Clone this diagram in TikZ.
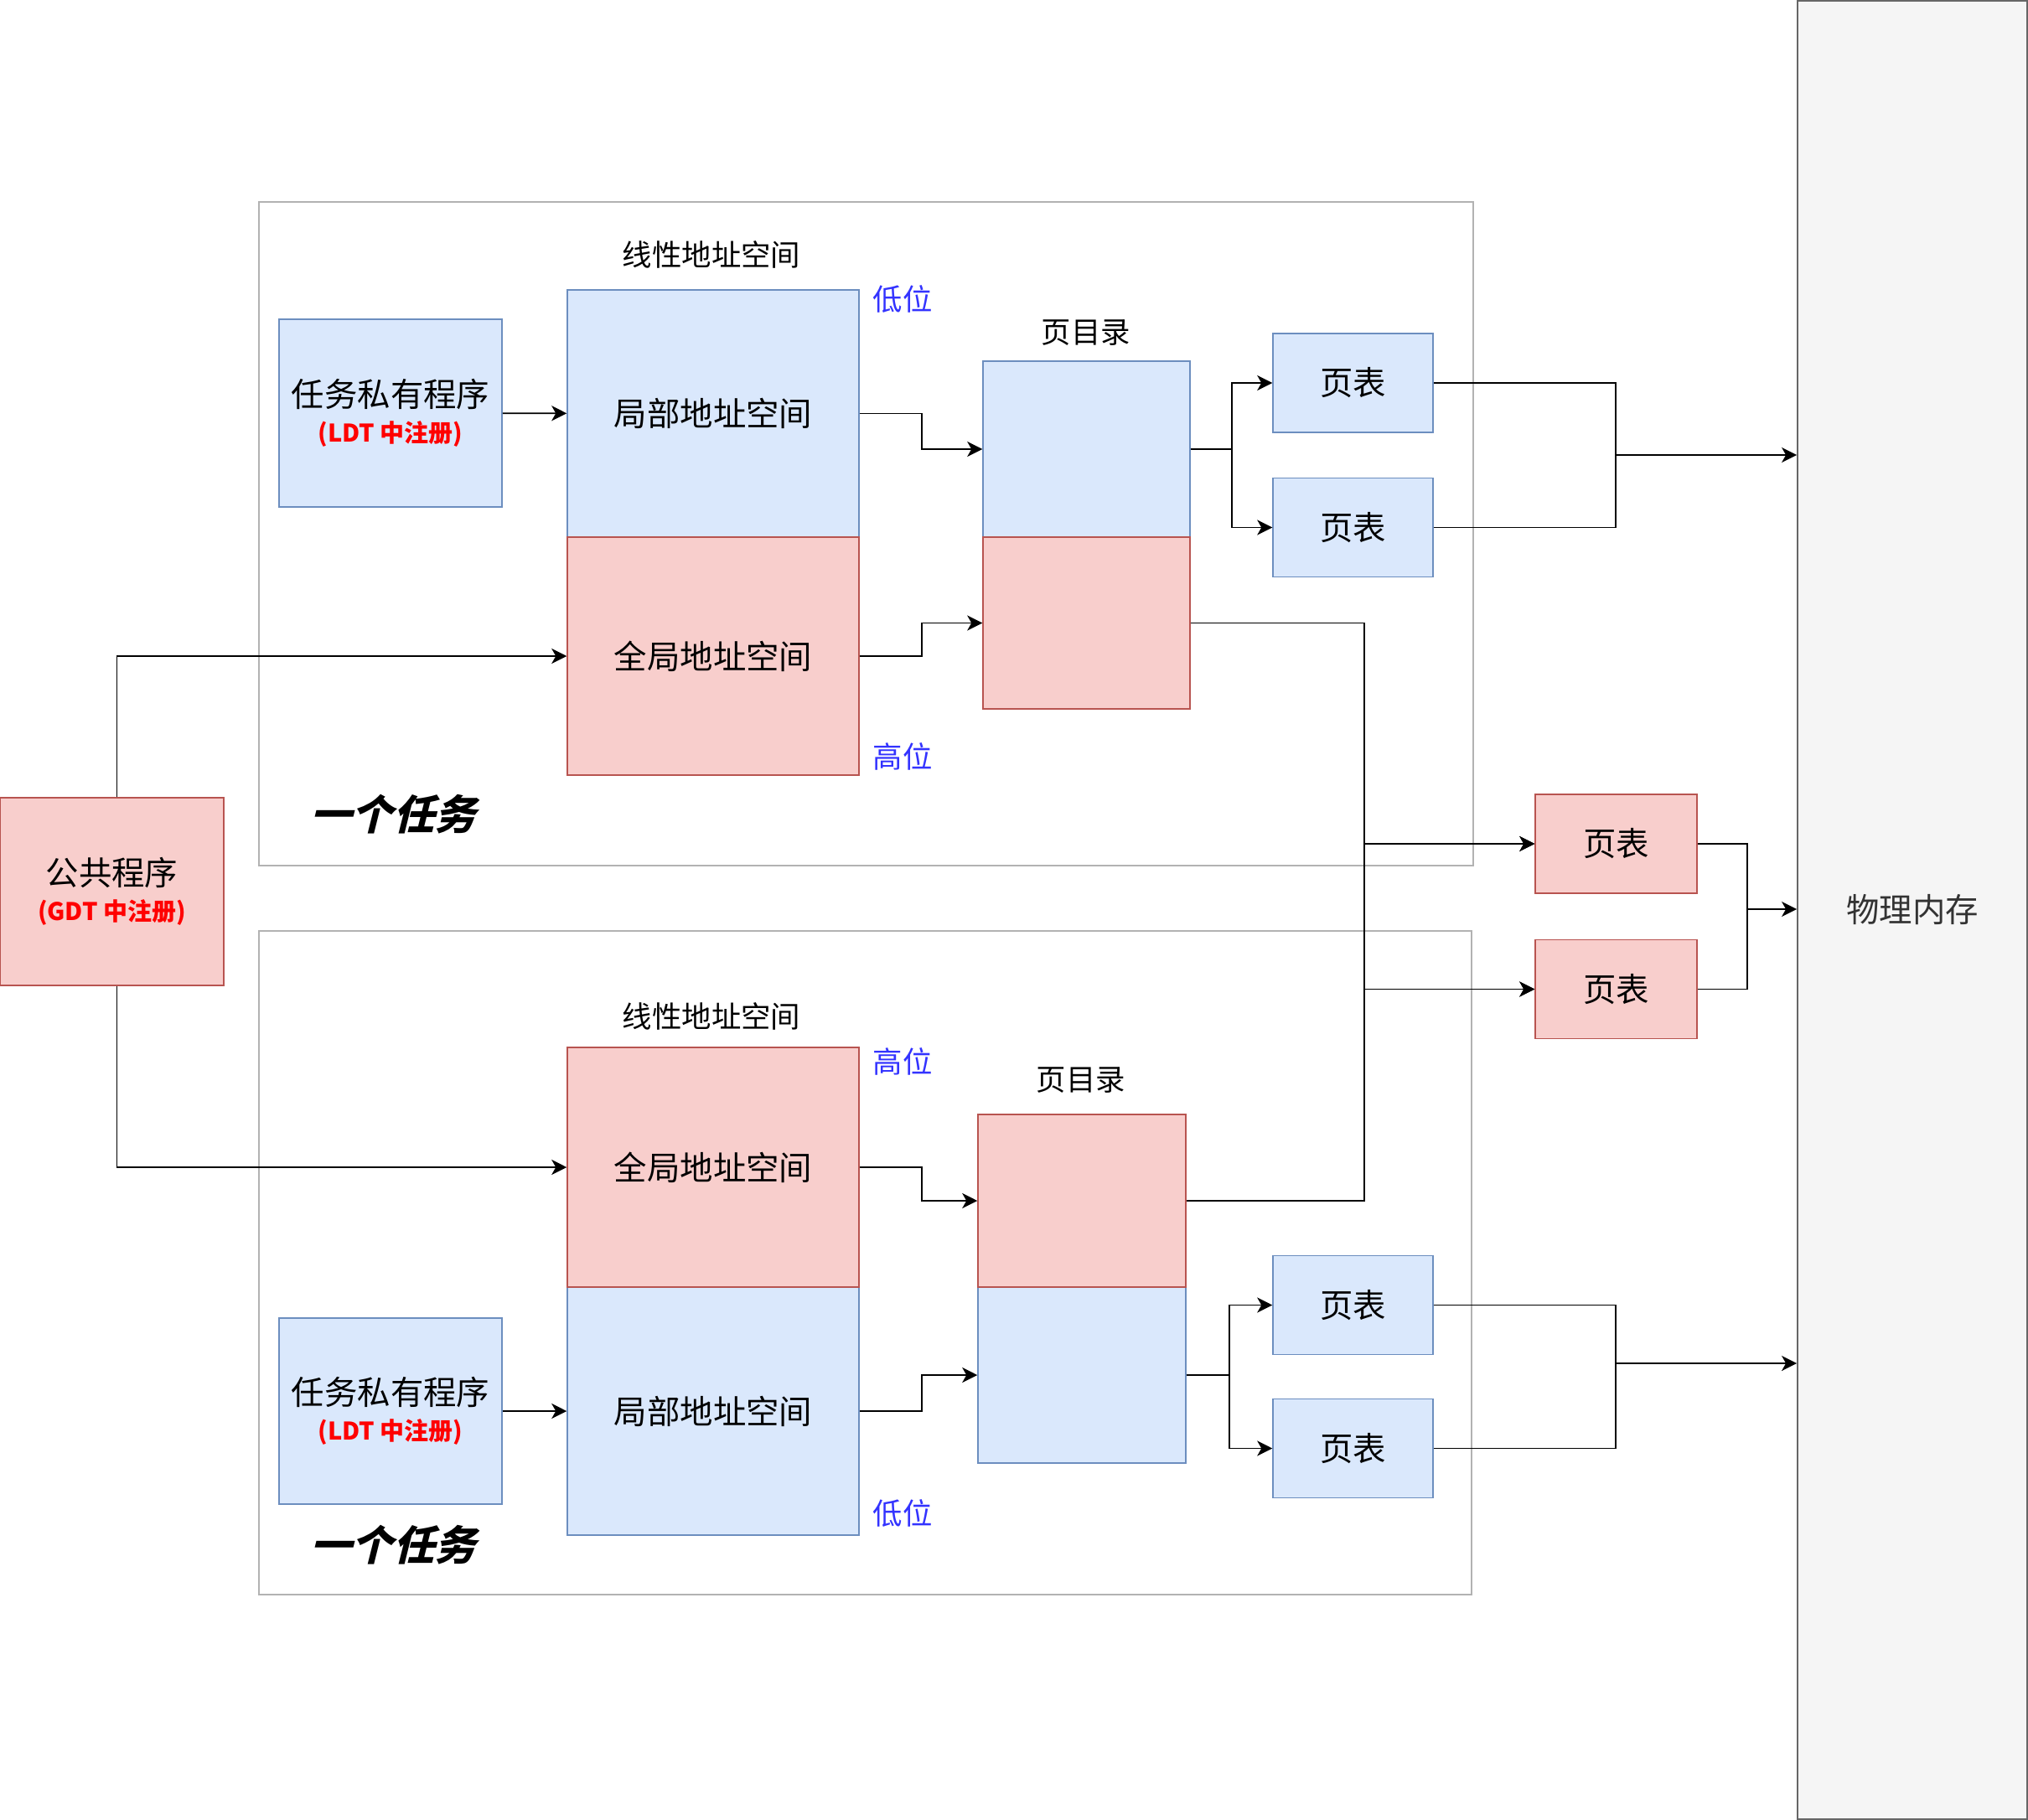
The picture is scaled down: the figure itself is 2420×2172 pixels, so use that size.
\documentclass[tikz,border=0pt]{standalone}
\usepackage{fontspec}
\setmainfont{Noto Sans CJK SC}
\newfontfamily\taskfont[FakeSlant=0.25]{Noto Sans CJK SC}
\usepackage{tikz}
\usetikzlibrary{arrows.meta}
\newcommand{\regfont}{\fontsize{14.5}{17}\selectfont\bfseries\color{red}}

\begin{document}
\begin{tikzpicture}[x=0.5pt,y=-0.5pt]

	\definecolor{blfill}{RGB}{218,232,252}
	\definecolor{bldraw}{RGB}{108,142,191}
	\definecolor{rdfill}{RGB}{248,206,204}
	\definecolor{rddraw}{RGB}{184,84,80}
	\definecolor{memfill}{RGB}{245,245,245}
	\definecolor{memdraw}{RGB}{102,102,102}
	\definecolor{lowhigh}{RGB}{51,51,255}

	\useasboundingbox (0,0) rectangle (2420,2172);

	\tikzstyle{edge} = [draw,line width=0.9pt,-{Stealth[length=9pt,width=9pt,inset=2.5pt]}]
	\tikzstyle{line} = [draw,line width=0.9pt,-]
	\tikzset{frame/.style = {draw=black!30,line width=0.8pt}}
	\tikzset{textlab/.style = {font=\fontsize{17.7}{21}\selectfont}}

	% the two tasks and the memory
	\draw[frame] (309,241) rectangle (1758,1033);
	\draw[frame] (309,1111) rectangle (1756,1903);
	\node[draw=memdraw,fill=memfill,line width=0.9pt,text=black!80,minimum width=137pt,minimum height=1085pt,font=\fontsize{19.7}{24}\selectfont] (mem) at (2282,1086) {物理内存};

	\tikzset{vertex/.style = {shape=rectangle,draw=bldraw,fill=blfill,line width=0.75pt,inner sep=0pt,align=center,font=\fontsize{19.7}{24}\selectfont}}
	\node[vertex,minimum width=133pt,minimum height=112pt] (prog1) at (466,493) {任务私有程序\\[-3pt]{\regfont (LDT 中注册)}};
	\node[vertex,minimum width=174pt,minimum height=147.5pt] (loc1) at (851,493.5) {局部地址空间};
	\node[vertex,minimum width=123.5pt,minimum height=105pt] (dir1a) at (1296.5,536) {};
	\node[vertex,minimum width=95.5pt,minimum height=59pt] (pt1a) at (1614.5,457) {页表};
	\node[vertex,minimum width=95.5pt,minimum height=59pt] (pt1b) at (1614.5,629.5) {页表};
	\node[vertex,minimum width=124pt,minimum height=105pt] (dir2b) at (1291,1641) {};
	\node[vertex,minimum width=174pt,minimum height=148pt] (loc2) at (851,1684) {局部地址空间};
	\node[vertex,minimum width=133pt,minimum height=111pt] (prog2) at (466,1684) {任务私有程序\\[-3pt]{\regfont (LDT 中注册)}};
	\node[vertex,minimum width=95.5pt,minimum height=59pt] (pt2a) at (1614.5,1557.5) {页表};
	\node[vertex,minimum width=95.5pt,minimum height=59pt] (pt2b) at (1614.5,1728.5) {页表};

	\tikzset{vertex/.style = {shape=rectangle,draw=rddraw,fill=rdfill,line width=0.75pt,inner sep=0pt,align=center,font=\fontsize{19.7}{24}\selectfont}}
	\node[vertex,minimum width=174pt,minimum height=142pt] (glo1) at (851,783) {全局地址空间};
	\node[vertex,minimum width=123.5pt,minimum height=102.5pt] (dir1b) at (1296.5,743.5) {};
	\node[vertex,minimum width=174pt,minimum height=143pt] (glo2) at (851,1393) {全局地址空间};
	\node[vertex,minimum width=124pt,minimum height=103pt] (dir2a) at (1291,1433) {};
	\node[vertex,minimum width=133.5pt,minimum height=112pt] (common) at (133.5,1064) {公共程序\\[-3pt]{\regfont (GDT 中注册)}};
	\node[vertex,minimum width=96.5pt,minimum height=59pt] (ptg1) at (1928.5,1007) {页表};
	\node[vertex,minimum width=96.5pt,minimum height=59pt] (ptg2) at (1928.5,1180.5) {页表};

	\node[textlab] (lin1) at (849,304) {线性地址空间};
	\node[textlab] (lin2) at (849,1213) {线性地址空间};
	\node[textlab] (dirlab1) at (1296,397) {页目录};
	\node[textlab] (dirlab2) at (1290,1289) {页目录};
	\node[textlab,text=lowhigh] (low1) at (1077,357) {低位};
	\node[textlab,text=lowhigh] (high1) at (1077,903) {高位};
	\node[textlab,text=lowhigh] (high2) at (1077,1267) {高位};
	\node[textlab,text=lowhigh] (low2) at (1077,1806) {低位};
	\node[font=\fontsize{24.7}{28}\selectfont\taskfont\bfseries] (task1) at (469,972) {一个任务};
	\node[font=\fontsize{24.7}{28}\selectfont\taskfont\bfseries] (task2) at (469,1844) {一个任务};

	% upper task
	\draw[edge] (prog1) to (loc1);
	\draw[edge] (loc1.east) -- ++(74,0) |- (dir1a.west);
	\draw[edge] (glo1.east) -- ++(74,0) |- (dir1b.west);
	\draw[edge] (dir1a.east) -- ++(49,0) |- (pt1a.west);
	\draw[edge] (dir1a.east) -- ++(49,0) |- (pt1b.west);
	\coordinate (j1) at (1928,543);
	\draw[line] (pt1a.east) -| (j1);
	\draw[line] (pt1b.east) -| (j1);
	\draw[edge] (j1) -- (j1 -| mem.west);

	% lower task
	\draw[edge] (prog2) to (loc2);
	\draw[edge] (glo2.east) -- ++(74,0) |- (dir2a.west);
	\draw[edge] (loc2.east) -- ++(74,0) |- (dir2b.west);
	\draw[edge] (dir2b.east) -- ++(51,0) |- (pt2a.west);
	\draw[edge] (dir2b.east) -- ++(51,0) |- (pt2b.west);
	\coordinate (j2) at (1928,1627);
	\draw[line] (pt2a.east) -| (j2);
	\draw[line] (pt2b.east) -| (j2);
	\draw[edge] (j2) -- (j2 -| mem.west);

	% shared part
	\draw[edge] ([xshift=3pt]common.north) |- (glo1.west);
	\draw[edge] ([xshift=3pt]common.south) |- (glo2.west);
	\draw[edge] (dir1b.east) -- ++(207,0) |- (ptg1.west);
	\draw[edge] (dir1b.east) -- ++(207,0) |- (ptg2.west);
	\draw[edge] (dir2a.east) -- ++(212,0) |- (ptg1.west);
	\draw[edge] (dir2a.east) -- ++(212,0) |- (ptg2.west);
	\coordinate (j3) at (2085,1085);
	\draw[line] (ptg1.east) -| (j3);
	\draw[line] (ptg2.east) -| (j3);
	\draw[edge] (j3) -- (j3 -| mem.west);
\end{tikzpicture}
\end{document}
